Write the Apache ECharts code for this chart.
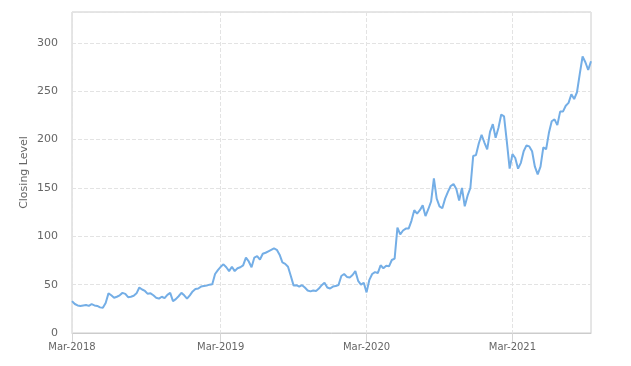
<!DOCTYPE html>
<html>
<head>
<meta charset="utf-8">
<script src="https://cdn.jsdelivr.net/npm/echarts@6/dist/echarts.min.js"></script>
<style>html,body{margin:0;padding:0;background:#fff;}#c{width:631px;height:366px;}</style>
</head>
<body>
<div id="c"></div>
<script>
// Weekly closing levels starting 2018-03-01
var startDate = '2018-03-01';
var closingLevels = [
  33, 30, 28.5, 28, 28.5, 29, 28, 29.8, 28.5, 28,
  26.5, 26, 31, 41, 39, 36.5, 37.5, 39, 41.5, 40.5,
  37, 37.5, 38.5, 41, 47, 45, 43.5, 40.5, 41, 39,
  36.5, 35.5, 37.5, 36, 39.5, 41.5, 33, 35, 38, 41.5,
  39, 35.5, 39, 43, 45.5, 46, 48, 48.5, 49, 50,
  50.5, 61, 65, 68.5, 71, 68, 64, 68.5, 64, 67,
  68, 70, 78, 74, 68, 78, 79.5, 76, 82, 83,
  84.5, 86, 87.5, 86, 81, 73, 71.5, 68.5, 59, 49,
  49.5, 48, 49.5, 47, 44, 43, 44, 43.5, 46, 49.5,
  52, 47, 46, 48, 48.5, 49.6, 59, 61, 58, 57.5,
  60, 64, 54, 50, 52, 42, 55, 61, 63, 62,
  70, 67, 69.5, 69, 75.5, 77, 109, 102, 106, 108,
  108, 116, 127, 123.5, 127, 132, 121, 128, 136, 160,
  139, 131, 129, 139, 146, 152, 154, 149, 137, 150,
  131, 142, 150, 183, 184, 196, 205, 197, 190, 208,
  216, 202, 212, 226, 224, 198, 170, 185, 181, 170,
  176, 188, 194, 193, 188, 172, 164, 172, 192, 190,
  207, 219, 221, 215, 229, 229, 235, 238, 247, 242,
  249, 268, 286, 280, 272, 281
];
var monthNames = ['Jan','Feb','Mar','Apr','May','Jun','Jul','Aug','Sep','Oct','Nov','Dec'];
var yTicks = [0, 50, 100, 150, 200, 250, 300];
var yMax = 332;

var weekDates = [];
var d0 = new Date(startDate + 'T00:00:00Z');
for (var i = 0; i < closingLevels.length; i++) {
  var d = new Date(d0.getTime() + i * 7 * 86400000);
  weekDates.push(d.toISOString().slice(0, 10));
}
function isMarchStart(idx) {
  var m = +weekDates[idx].slice(5, 7);
  if (m !== 3) return false;
  if (idx === 0) return true;
  return +weekDates[idx - 1].slice(5, 7) !== 3;
}
function marchInterval(idx) { return isMarchStart(idx); }

var chart = echarts.init(document.getElementById('c'), null, {renderer: 'canvas'});
chart.setOption({
  animation: false,
  grid: {left: 72, right: 40, top: 12, bottom: 33, show: true, borderColor: '#cccccc', borderWidth: 1},
  xAxis: {
    type: 'category',
    data: weekDates,
    boundaryGap: false,
    axisLine: {show: true, lineStyle: {color: '#cccccc'}},
    axisTick: {show: true, interval: marchInterval, length: 10, lineStyle: {color: '#d6d6d6'}},
    axisLabel: {
      interval: marchInterval,
      margin: 9,
      color: '#666666',
      fontFamily: 'DejaVu Sans',
      fontSize: 10,
      formatter: function (v) {
        return monthNames[+v.slice(5, 7) - 1] + '-' + v.slice(0, 4);
      }
    },
    splitLine: {show: true, interval: marchInterval, lineStyle: {color: '#e3e3e3', type: 'dashed'}}
  },
  yAxis: {
    type: 'value',
    min: 0,
    max: yMax,
    interval: 50,
    name: 'Closing Level',
    nameLocation: 'middle',
    nameGap: 42,
    nameMoveOverlap: false,
    nameTextStyle: {color: '#666666', fontFamily: 'DejaVu Sans', fontSize: 11},
    axisLine: {show: false},
    axisTick: {show: false},
    axisLabel: {
      margin: 14,
      color: '#666666',
      fontFamily: 'DejaVu Sans',
      fontSize: 11,
      showMaxLabel: false,
      formatter: function (v) { return yTicks.indexOf(v) >= 0 ? String(v) : ''; }
    },
    splitLine: {show: true, lineStyle: {color: '#e3e3e3', type: 'dashed'}}
  },
  series: [{
    type: 'line',
    data: closingLevels,
    showSymbol: false,
    smooth: false,
    lineStyle: {color: '#74aee6', width: 2},
    itemStyle: {color: '#74aee6'}
  }]
});
</script>
</body>
</html>
